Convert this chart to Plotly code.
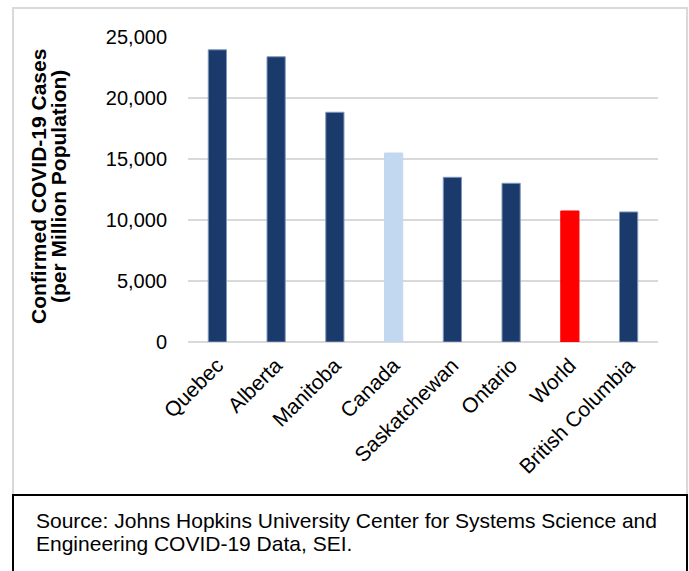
import plotly.graph_objects as go

# Confirmed cases per million population, by region
regions = ["Quebec", "Alberta", "Manitoba", "Canada", "Saskatchewan",
           "Ontario", "World", "British Columbia"]
cases_per_million = [23950, 23380, 18830, 15490, 13500, 13010, 10740, 10660]

navy = "#193A6A"
bar_colors = [navy, navy, navy, "#C2D7F0", navy, navy, "#FF0000", navy]
edge_colors = ["#7F97BC", "#7F97BC", "#7F97BC", "#C2D7F0", "#7F97BC",
               "#7F97BC", "#FF0000", "#7F97BC"]

y_ticks = [0, 5000, 10000, 15000, 20000, 25000]
y_tick_text = ["0", "5,000", "10,000", "15,000", "20,000", "25,000"]

title_lines = ["Confirmed COVID-19 Cases", "(per Million Population)"]
source_lines = ["Source: Johns Hopkins University Center for Systems Science and",
                "Engineering COVID-19 Data, SEI."]

FONT = "Arial, Liberation Sans, sans-serif"

W, H = 689, 571
ML, MR, MT, MB = 188, 31, 37, 229
plot_w = W - ML - MR
plot_h = H - MT - MB


def px_x(x):
    return (x - ML) / plot_w


def px_y(y):
    return (H - MB - y) / plot_h


fig = go.Figure(
    go.Bar(
        x=regions,
        y=cases_per_million,
        marker=dict(color=bar_colors, line=dict(color=edge_colors, width=1)),
        width=0.31,
        hoverinfo="x+y",
    )
)

annotations = []
# rotated two-line axis title, one line per annotation for tight spacing
for line, cx in zip(title_lines, [38, 58]):
    annotations.append(dict(
        text=f"<b>{line}</b>",
        textangle=-90,
        xref="paper", yref="paper",
        x=px_x(cx), y=px_y(187),
        xanchor="center", yanchor="middle",
        showarrow=False,
        font=dict(size=21, family=FONT, color="#000000"),
    ))
# source note inside the boxed footer
for line, cy in zip(source_lines, [520, 543]):
    annotations.append(dict(
        text=line,
        xref="paper", yref="paper",
        x=px_x(34), y=px_y(cy),
        xanchor="left", yanchor="middle",
        align="left",
        showarrow=False,
        font=dict(size=21, family=FONT, color="#000000"),
    ))

fig.update_layout(
    width=W,
    height=H,
    margin=dict(l=ML, r=MR, t=MT, b=MB),
    paper_bgcolor="white",
    plot_bgcolor="white",
    showlegend=False,
    font=dict(family=FONT, color="#000000"),
    xaxis=dict(
        tickangle=-45,
        tickfont=dict(size=21, family=FONT, color="#000000"),
        showgrid=False,
        showline=False,
        ticks="",
        zeroline=False,
        ticklabelstandoff=6,
    ),
    yaxis=dict(
        range=[0, 25000],
        tickvals=y_ticks,
        ticktext=y_tick_text,
        tickfont=dict(size=20, family=FONT, color="#000000"),
        showgrid=True,
        gridcolor="#D9D9D9",
        gridwidth=2,
        zeroline=True,
        zerolinecolor="#D9D9D9",
        zerolinewidth=2,
        showline=False,
        ticks="",
        ticklabelstandoff=20,
    ),
    shapes=[
        # light frame around the chart area
        dict(type="rect", xref="paper", yref="paper",
             x0=px_x(13), x1=px_x(687), y0=px_y(495), y1=px_y(8),
             line=dict(color="#D9D9D9", width=2), layer="below"),
        # boxed source note
        dict(type="rect", xref="paper", yref="paper",
             x0=px_x(13), x1=px_x(687), y0=px_y(580), y1=px_y(495),
             line=dict(color="#000000", width=2), layer="above"),
    ],
    annotations=annotations,
)

fig.write_html("out.html")
